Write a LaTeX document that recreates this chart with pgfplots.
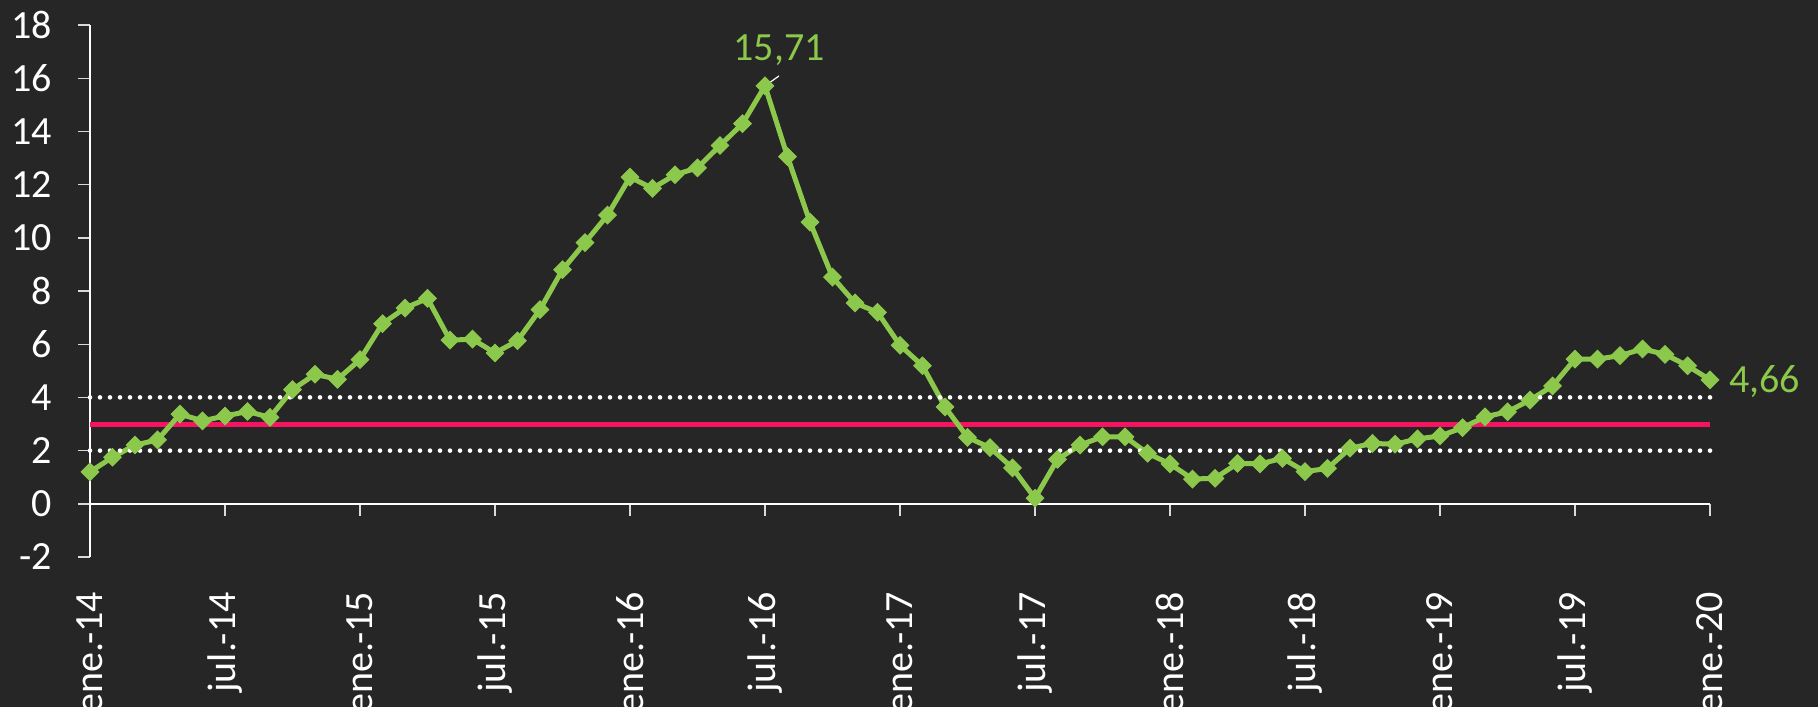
\documentclass[border=0pt]{standalone}
\usepackage{pgfplots}
\pgfplotsset{compat=1.18}
\usepackage{pgfplotstable}
\usepackage{fontspec}
\setmainfont{Carlito}
\definecolor{bg}{RGB}{38,38,38}
\definecolor{lgreen}{RGB}{140,200,75}
\definecolor{tgt}{RGB}{245,20,95}
\pgfplotstableread{
x y
0 1.20
1 1.75
2 2.21
3 2.40
4 3.37
5 3.12
6 3.30
7 3.47
8 3.25
9 4.29
10 4.87
11 4.68
12 5.42
13 6.77
14 7.36
15 7.72
16 6.15
17 6.19
18 5.67
19 6.13
20 7.30
21 8.80
22 9.82
23 10.85
24 12.28
25 11.86
26 12.37
27 12.63
28 13.47
29 14.29
30 15.71
31 13.05
32 10.59
33 8.52
34 7.55
35 7.20
36 5.96
37 5.19
38 3.64
39 2.50
40 2.11
41 1.35
42 0.21
43 1.67
44 2.21
45 2.52
46 2.52
47 1.90
48 1.50
49 0.93
50 0.96
51 1.52
52 1.50
53 1.71
54 1.21
55 1.33
56 2.09
57 2.27
58 2.24
59 2.44
60 2.55
61 2.86
62 3.27
63 3.46
64 3.90
65 4.43
66 5.44
67 5.44
68 5.57
69 5.82
70 5.62
71 5.19
72 4.66
}\datatable
\begin{document}
\begin{tikzpicture}
\fill[bg] (-45pt,-75pt) rectangle (864pt,278.5pt);
\begin{axis}[
  at={(0,0)}, anchor=south west,
  scale only axis, width=810pt, height=266pt,
  xmin=0, xmax=72, ymin=-2, ymax=18,
  axis x line*=middle, axis y line*=left,
  hide obscured x ticks=false, hide obscured y ticks=false,
  axis line style={white, line width=0.7pt},
  tick align=outside, major tick length=6pt,
  tick style={white!85!black, line width=0.7pt},
  xtick={0,6,...,72},
  xticklabels={ene.-14,jul.-14,ene.-15,jul.-15,ene.-16,jul.-16,ene.-17,jul.-17,ene.-18,jul.-18,ene.-19,jul.-19,ene.-20},
  ytick={-2,0,...,18},
  yticklabels={-2,0,2,4,6,8,10,12,14,16,18},
  ticklabel style={font=\fontsize{20}{24}\selectfont, text=white},
  xticklabel style={rotate=90, anchor=east, inner sep=0pt},
  xticklabel shift=38pt,
  yticklabel style={anchor=east, inner sep=0pt},
  yticklabel shift=12.8pt,
  clip=false,
]
\addplot[draw=tgt, line width=2.5pt, forget plot] coordinates {(0,3) (72,3)};
\addplot[color=lgreen, line width=2.5pt, mark=square*, mark size=3.1pt,
  mark options={rotate=45, solid, fill=lgreen, line width=0.5pt}] table[x=x,y=y] {\datatable};
\addplot[draw=white, line width=2.3pt, line cap=round, dash pattern=on 0pt off 5pt, forget plot] coordinates {(0,2) (72,2)};
\addplot[draw=white, line width=2.3pt, line cap=round, dash pattern=on 0pt off 5pt, forget plot] coordinates {(0,4) (72,4)};
\draw[white, line width=0.6pt] (axis cs:30,15.71) -- ++(7pt,5pt);
\node[text=lgreen, font=\fontsize{20}{24}\selectfont, inner sep=0pt] at ([xshift=7pt,yshift=18pt]axis cs:30,15.71) {15,71};
\node[text=lgreen, font=\fontsize{20}{24}\selectfont, inner sep=0pt, anchor=west] at ([xshift=9.5pt,yshift=-1pt]axis cs:72,4.66) {4,66};
\end{axis}
\pgfresetboundingbox
\useasboundingbox (-45pt,-75pt) rectangle (864pt,278.5pt);
\end{tikzpicture}
\end{document}
